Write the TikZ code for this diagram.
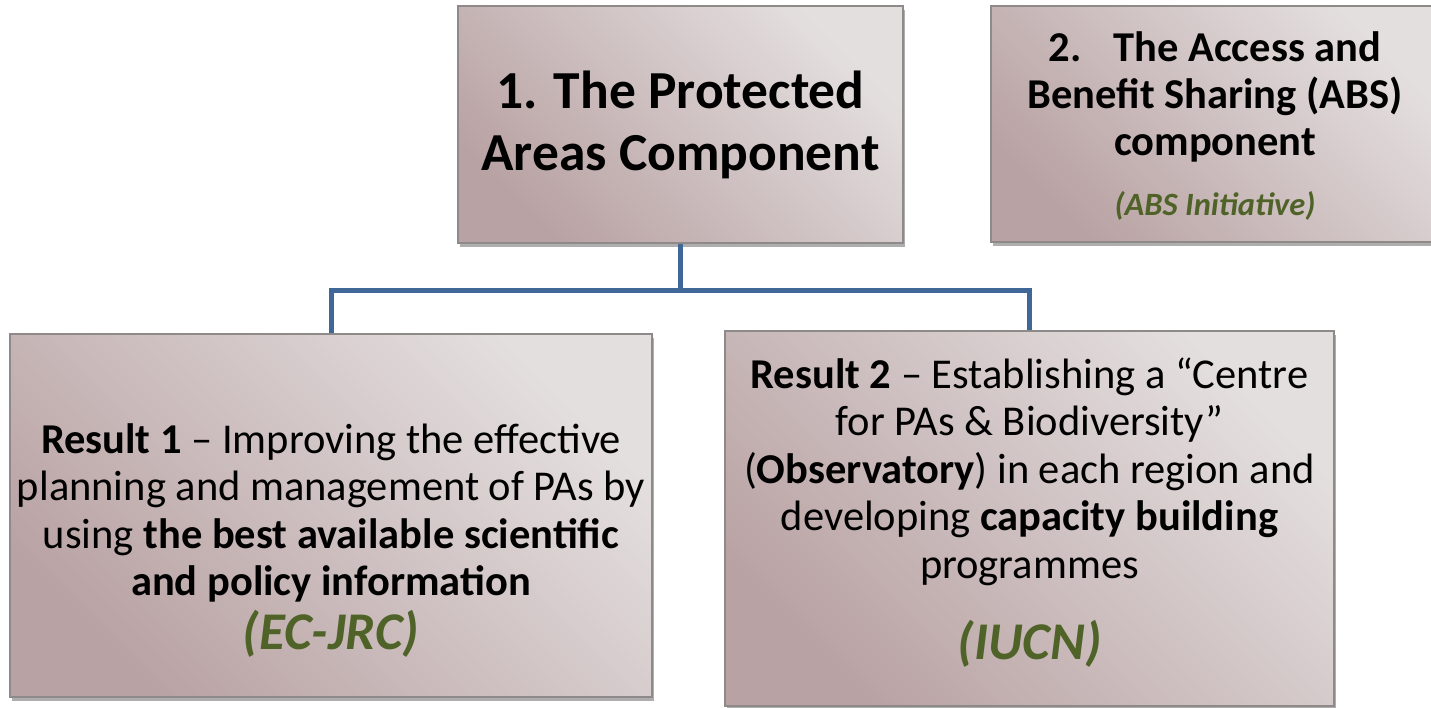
\documentclass[tikz,border=0pt]{standalone}
\usepackage{fontspec}
\setmainfont{Carlito}
\usetikzlibrary{shadows}

\definecolor{linkblue}{HTML}{3F6797}
\definecolor{orggreen}{HTML}{4F6228}
\definecolor{boxdark}{HTML}{B9A2A3}
\definecolor{boxlight}{HTML}{E4DFDF}
\definecolor{boxedge}{HTML}{8E8A8A}

\newcommand{\orgname}[2]{{\fontsize{#1}{#1}\selectfont\bfseries\itshape\color{orggreen}#2}}

\begin{document}
\begin{tikzpicture}[x=1pt, y=-1pt,
  comp/.style = {draw=boxedge, line width=1.2pt, top color=boxlight, bottom color=boxdark,
    shading angle=-45, drop shadow={shadow xshift=2pt, shadow yshift=-4pt, opacity=0.45, fill=black!70},
    inner sep=0pt},
  txt/.style = {align=center, inner sep=0pt, font=\fontsize{42.5}{47.5}\selectfont},
  link/.style = {draw=linkblue, line width=5pt, line join=miter}]
\path[use as bounding box, clip] (0,0) rectangle (1431,707);
\fill[white] (0,0) rectangle (1431,707);
% top row
\node[comp, minimum width=445pt, minimum height=237pt, align=center, font=\fontsize{53.5}{62}\selectfont\bfseries] (pa) at (680.5,124.5)
  {1. The Protected\\ Areas Component};
\node[comp, minimum width=450pt, minimum height=236pt] (abs) at (1216,124) {};
\node[txt, font=\fontsize{42.5}{47}\selectfont\bfseries] (abstext) at ([yshift=-2pt]1215,124)
  {2.\hspace{0.75em}The Access and\\ Benefit Sharing (ABS)\\ component\\[13pt] \orgname{32.5}{(ABS Initiative)}};
% results
\node[comp, minimum width=642pt, minimum height=363pt] (r1) at (331,515.5) {};
\node[txt] (r1text) at ([yshift=-25pt]r1.center)
  {{\bfseries Result 1} -- Improving the effective\\ planning and management of PAs by\\
   using {\bfseries the best available scientific}\\ {\bfseries and policy information}\\[6pt]
   \orgname{53}{(EC-JRC)}};
\node[comp, minimum width=609pt, minimum height=375pt] (r2) at (1029.5,518.5) {};
\node[txt] (r2text) at ([yshift=6pt]r2.center)
  {{\bfseries Result 2} -- Establishing a “Centre\\ for PAs \& Biodiversity”\\
   ({\bfseries Observatory}) in each region and\\ developing {\bfseries capacity building}\\ programmes\\[34pt]
   \orgname{53}{(IUCN)}};
% connectors
\coordinate (fork) at (680.5,290);
\draw[link] (pa.south) -- (fork) -| (r1.north);
\draw[link] (fork) -| (r2.north);
\end{tikzpicture}
\end{document}
